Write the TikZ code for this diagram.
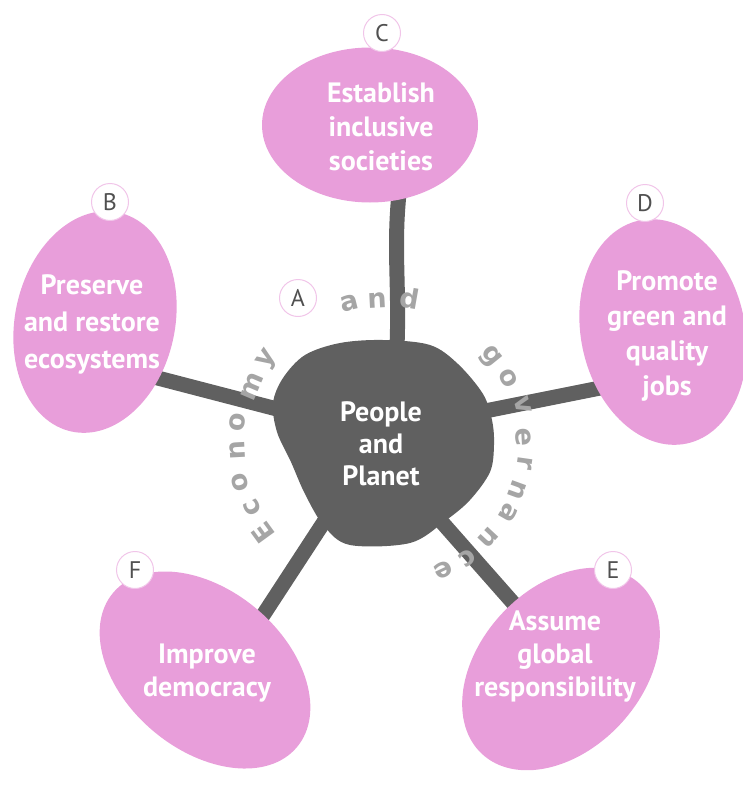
\documentclass[tikz,border=0pt]{standalone}
\usepackage{fontspec}
\setmainfont{PT Sans}
\newfontfamily\arcfont{DejaVu Sans}
\usetikzlibrary{shapes.geometric}
\definecolor{petal}{RGB}{232,158,218}
\definecolor{hubgray}{RGB}{96,96,96}
\definecolor{arcgray}{RGB}{165,165,165}
\definecolor{taggray}{RGB}{80,80,80}
\pgfdeclarelayer{bg}
\pgfsetlayers{bg,main}
\begin{document}
\begin{tikzpicture}[x=1pt,y=-1pt,
  petalshape/.style={ellipse, fill=petal, draw=none, inner sep=0pt},
  petaltext/.style={text=white, font=\fontsize{28}{34}\selectfont\bfseries, align=center, inner sep=0pt},
  hubtext/.style={text=white, font=\fontsize{28}{32}\selectfont\bfseries, align=center, inner sep=0pt},
  stem/.style={draw=hubgray, line width=15pt},
  tag/.style={circle, fill=white, draw=petal!60, line width=1pt, minimum size=37pt, inner sep=0pt, text=taggray, font=\fontsize{24}{24}\selectfont},
  arcl/.style={text=arcgray, font=\arcfont\bfseries\fontsize{27}{27}\selectfont, inner sep=0pt}]
\useasboundingbox (0,0) rectangle (742,787);

% petals
\node[petalshape, minimum width=216pt, minimum height=155pt] (pC) at (370,125) {};
\node[petalshape, minimum width=160pt, minimum height=224pt, rotate=-12] (pB) at (95,322) {};
\node[petalshape, minimum width=164pt, minimum height=228pt, rotate=12] (pD) at (663,332) {};
\node[petalshape, minimum width=232pt, minimum height=162pt, rotate=47] (pE) at (561,669) {};
\node[petalshape, minimum width=240pt, minimum height=160pt, rotate=-40] (pF) at (205,670) {};

% hub blob
\coordinate (hub) at (385,443);
\fill[hubgray] plot[smooth cycle, tension=0.55] coordinates {
 (383,340) (430,345) (458,364) (483,394) (492,420) (494,445) (490,472)
 (470,500) (445,521) (410,543) (350,545) (324,526) (305,494) (291,462)
 (277,432) (273,403) (283,378) (305,355) (340,343)};

% stem end points
\coordinate (cA) at (396,365);
\coordinate (cB) at (400,185);
\coordinate (bA) at (300,415);
\coordinate (bB) at (150,376);
\coordinate (dA) at (470,414);
\coordinate (dB) at (620,384);
\coordinate (eA) at (425,503);
\coordinate (eB) at (522,613);
\coordinate (fA) at (335,505);
\coordinate (fB) at (258,623);

\begin{pgfonlayer}{bg}
\draw[stem] (cA) .. controls (401,290) and (392,250) .. (cB);
\draw[stem] (bA) -- (bB);
\draw[stem] (dA) -- (dB);
\draw[stem] (eA) -- (eB);
\draw[stem] (fA) -- (fB);
\end{pgfonlayer}

% texts
\node[hubtext] (thub) at (381,444) {People\\and\\Planet};
\node[petaltext] (tC) at (381,127) {Establish\\inclusive\\societies};
\node[petaltext, font=\fontsize{28}{37}\selectfont\bfseries] (tB) at (92,324) {Preserve\\and restore\\ecosystems};
\node[petaltext, font=\fontsize{28}{35}\selectfont\bfseries] (tD) at (667,336) {Promote\\green and\\quality\\jobs};
\node[petaltext, font=\fontsize{28}{33}\selectfont\bfseries] (tE) at (555,656) {Assume\\global\\responsibility};
\node[petaltext, font=\fontsize{28}{33}\selectfont\bfseries] (tF) at (207,673) {Improve\\democracy};

% tags
\node[tag] (gA) at (298,298) {A};
\node[tag] (gB) at (110,202) {B};
\node[tag] (gC) at (382,33) {C};
\node[tag] (gD) at (645,203) {D};
\node[tag] (gE) at (613,570) {E};
\node[tag] (gF) at (135,570) {F};

% arc letters: Economy
\node[arcl, rotate=126] (e1) at (263,533) {E};
\node[arcl, rotate=116] (e2) at (252,508) {c};
\node[arcl, rotate=105] (e3) at (240,482) {o};
\node[arcl, rotate=93]  (e4) at (237,450) {n};
\node[arcl, rotate=82]  (e5) at (237,422) {o};
\node[arcl, rotate=67]  (e6) at (252,387) {m};
\node[arcl, rotate=55]  (e7) at (268,360) {y};
% and
\node[arcl, rotate=14]  (a1) at (350,303) {a};
\node[arcl, rotate=3]   (a2) at (377,300) {n};
\node[arcl, rotate=-10] (a3) at (410,298) {d};
% governance
\node[arcl, rotate=-51]  (g1) at (490,357) {g};
\node[arcl, rotate=-62]  (g2) at (508,378) {o};
\node[arcl, rotate=-75]  (g3) at (523,405) {v};
\node[arcl, rotate=-87]  (g4) at (523,437) {e};
\node[arcl, rotate=-98]  (g5) at (525,463) {r};
\node[arcl, rotate=-110] (g6) at (517,490) {n};
\node[arcl, rotate=-120] (g7) at (508,513) {a};
\node[arcl, rotate=-133] (g8) at (488,538) {n};
\node[arcl, rotate=-144] (g9) at (467,558) {c};
\node[arcl, rotate=-155] (g10) at (443,570) {e};
\end{tikzpicture}
\end{document}
